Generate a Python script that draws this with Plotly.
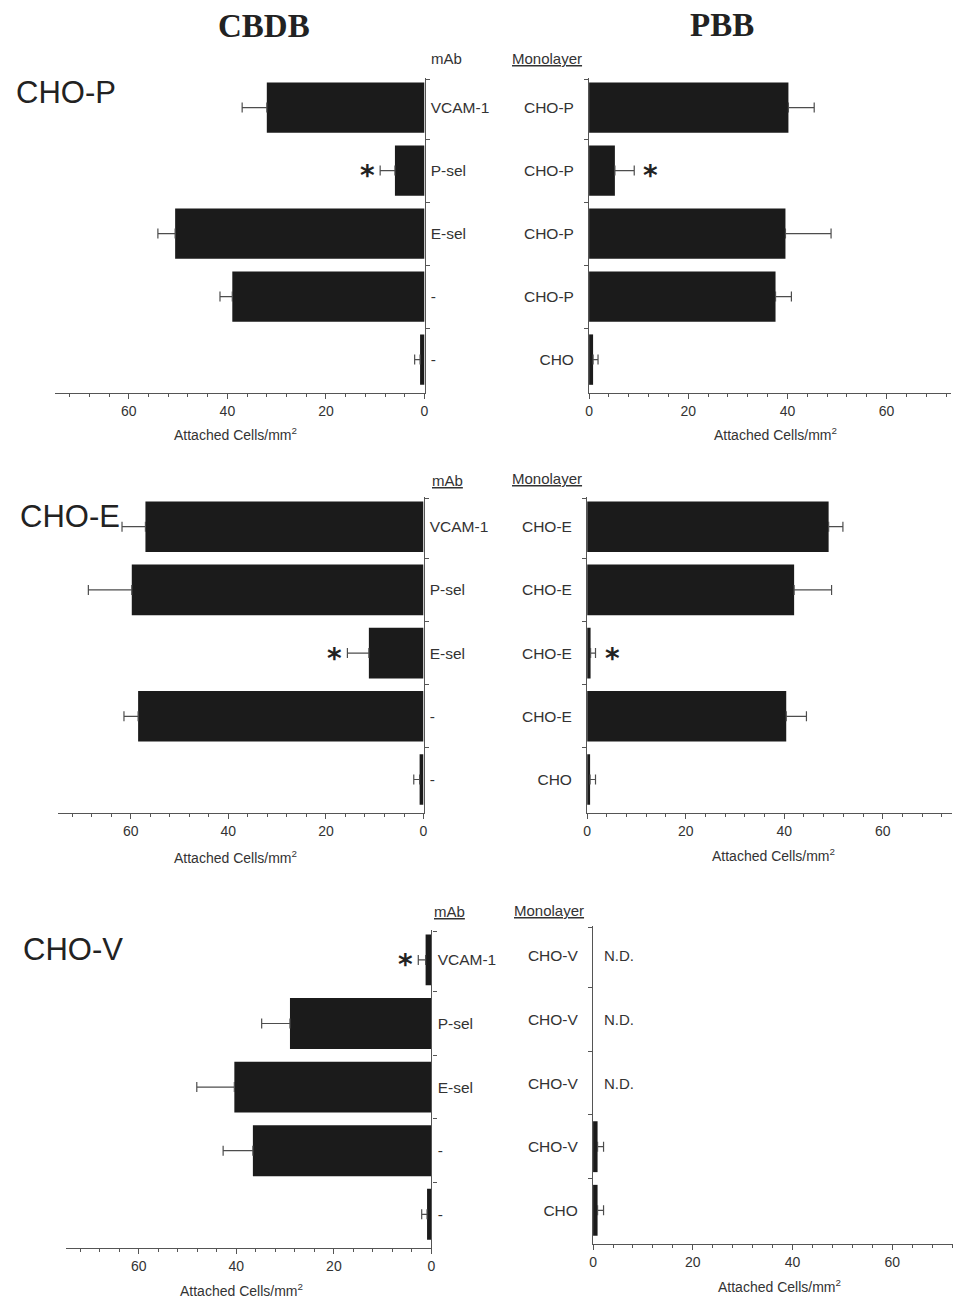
import plotly.graph_objects as go

# ---------------- data ----------------
mab_labels = ["VCAM-1", "P-sel", "E-sel", "-", "-"]
mono_P = ["CHO-P", "CHO-P", "CHO-P", "CHO-P", "CHO"]
mono_E = ["CHO-E", "CHO-E", "CHO-E", "CHO-E", "CHO"]
mono_V = ["CHO-V", "CHO-V", "CHO-V", "CHO-V", "CHO"]

cbdb_P = [32.0, 6.0, 50.6, 39.0, 0.9]
cbdb_P_err = [5.0, 3.0, 3.5, 2.5, 1.1]
cbdb_P_sig = [False, True, False, False, False]

cbdb_E = [57.0, 59.8, 11.2, 58.5, 0.8]
cbdb_E_err = [4.8, 8.9, 4.4, 2.9, 1.2]
cbdb_E_sig = [False, False, True, False, False]

cbdb_V = [1.2, 29.0, 40.4, 36.6, 0.9]
cbdb_V_err = [1.5, 5.8, 7.7, 6.1, 1.1]
cbdb_V_sig = [True, False, False, False, False]

pbb_P = [40.2, 5.2, 39.6, 37.6, 0.8]
pbb_P_err = [5.2, 3.9, 9.2, 3.2, 1.0]
pbb_P_sig = [False, True, False, False, False]

pbb_E = [49.0, 42.0, 0.7, 40.4, 0.6]
pbb_E_err = [2.9, 7.6, 1.0, 4.1, 1.1]
pbb_E_sig = [False, False, True, False, False]

pbb_V = [None, None, None, 0.9, 0.9]
pbb_V_err = [None, None, None, 1.2, 1.2]
pbb_V_nd = [True, True, True, False, False]
pbb_V_sig = [False, False, False, False, False]

row_names = ["CHO-P", "CHO-E", "CHO-V"]
col_titles = ["CBDB", "PBB"]
x_title = "Attached Cells/mm<sup>2</sup>"

# ---------------- layout helpers ----------------
# the page body adds an 8px margin, so the figure is drawn 8px in from the top-left
OFF = 8
W, H = 961 - OFF, 1299 - OFF
def px(x):
    return (x - OFF) / W
def py(y):
    return 1 - (y - OFF) / H

y_num = [4, 3, 2, 1, 0]
BAR = "#1b1b1b"
AX = "#555555"
TXT = "#333333"
FONT = "Liberation Sans, Arial, sans-serif"

# panel geometry (pixel positions in the 961x1299 window)
panels = [
    # (kind, zero_px, ppu, xmax, ytop, ybot)
    ("CBDB", 424, 4.97, 75, 78, 393),
    ("PBB", 590, 5.00, 73, 78, 393),
    ("CBDB", 423, 4.92, 75, 497, 813),
    ("PBB", 588, 4.97, 74, 497, 813),
    ("CBDB", 431, 4.92, 75, 930, 1248),
    ("PBB", 594, 5.03, 73, 926, 1244),
]
panel_data = [
    (cbdb_P, cbdb_P_err, cbdb_P_sig, mab_labels, None),
    (pbb_P, pbb_P_err, pbb_P_sig, mono_P, None),
    (cbdb_E, cbdb_E_err, cbdb_E_sig, mab_labels, None),
    (pbb_E, pbb_E_err, pbb_E_sig, mono_E, None),
    (cbdb_V, cbdb_V_err, cbdb_V_sig, mab_labels, None),
    (pbb_V, pbb_V_err, pbb_V_sig, mono_V, pbb_V_nd),
]

fig = go.Figure()
annotations = []
YR = [-0.53, 4.47]

def paper_text(x, y, text, size, family=FONT, color=TXT):
    return dict(x=px(x), y=py(y), xref="paper", yref="paper", text=text, showarrow=False,
                xanchor="center", yanchor="middle",
                font=dict(family=family, size=size, color=color))

for i, ((kind, zero, ppu, xmax, ytop, ybot), (vals, errs, sig, labels, nd)) in enumerate(zip(panels, panel_data)):
    n = i + 1
    xa = "x" if n == 1 else f"x{n}"
    ya = "y" if n == 1 else f"y{n}"
    xkey = "xaxis" if n == 1 else f"xaxis{n}"
    ykey = "yaxis" if n == 1 else f"yaxis{n}"

    fig.add_trace(go.Bar(
        x=vals, y=y_num, orientation="h", width=0.8,
        marker=dict(color=BAR, line=dict(width=0)),
        error_x=dict(type="data", array=errs, arrayminus=[0] * 5, symmetric=False,
                     color="#4d4d4d", thickness=1.2, width=5),
        xaxis=xa, yaxis=ya, showlegend=False, hoverinfo="skip",
    ))

    if kind == "CBDB":
        dom = [max(0.0, px(zero - xmax * ppu)), px(zero)]
        rng = [xmax, 0]
        yside = "right"
        standoff = 2
    else:
        dom = [px(zero), min(1.0, px(zero + xmax * ppu))]
        rng = [0, xmax]
        yside = "left"
        standoff = 11

    fig.layout[xkey] = dict(
        domain=dom, range=rng, anchor=ya, showgrid=False, zeroline=False,
        showline=True, linecolor=AX, linewidth=1.2,
        tickvals=[0, 20, 40, 60], ticks="outside", ticklen=5, tickcolor=AX,
        tickfont=dict(family=FONT, size=14, color=TXT),
        minor=dict(tick0=0, dtick=4, ticks="outside", ticklen=3, tickcolor=AX, showgrid=False),
        fixedrange=True,
    )
    fig.layout[ykey] = dict(
        domain=[py(ybot), py(ytop)], range=YR, anchor=xa, side=yside,
        showgrid=False, zeroline=False, showline=True, linecolor=AX, linewidth=1.2,
        tickvals=y_num, ticktext=labels, ticks="", ticklabelstandoff=standoff,
        tickfont=dict(family=FONT, size=15.5, color=TXT),
        minor=dict(tickvals=[0.5, 1.5, 2.5, 3.5, 4.45], ticks="outside", ticklen=4,
                   tickcolor=AX, showgrid=False),
        fixedrange=True,
    )

    # significance stars
    for v, e, s, yy in zip(vals, errs, sig, y_num):
        if s:
            annotations.append(dict(
                x=v + e, y=yy, xref=xa, yref=ya, text="<b>*</b>", showarrow=False,
                xanchor="right" if kind == "CBDB" else "left", yanchor="middle",
                xshift=-3 if kind == "CBDB" else 7, yshift=-5,
                font=dict(family="DejaVu Sans", size=28, color="#222222"),
            ))
    # N.D. labels
    if nd is not None:
        for flag, yy in zip(nd, y_num):
            if flag:
                annotations.append(dict(
                    x=0, y=yy, xref=xa, yref=ya, text="N.D.", showarrow=False,
                    xanchor="left", yanchor="middle", xshift=9,
                    font=dict(family=FONT, size=15, color=TXT),
                ))

# column titles
SERIF = "Liberation Serif, Times New Roman, serif"
annotations.append(paper_text(262, 26, f"<b>{col_titles[0]}</b>", 33, SERIF, "#222222"))
annotations.append(paper_text(724, 25, f"<b>{col_titles[1]}</b>", 33, SERIF, "#222222"))

# row labels
row_label_pos = [(62, 92), (66, 516), (70, 949)]
for name, (lx, ly) in zip(row_names, row_label_pos):
    annotations.append(paper_text(lx, ly, name, 31, FONT, "#222222"))

# column header labels
mab_pos = [(446, 58, False), (447, 480, True), (449, 912, True)]
for mx, my, ul in mab_pos:
    t = "<u>mAb</u>" if ul else "mAb"
    annotations.append(paper_text(mx, my, t, 15))
mono_pos = [(548, 58), (548, 478), (550, 910)]
for mx, my in mono_pos:
    annotations.append(paper_text(mx, my, "<u>Monolayer</u>", 15))

# x-axis titles
xt_pos = [(233, 434), (778, 434), (233, 857), (776, 855), (239, 1290), (782, 1286)]
for tx, ty in xt_pos:
    annotations.append(paper_text(tx, ty, x_title, 14))

fig.update_layout(
    width=W, height=H, margin=dict(l=0, r=0, t=0, b=0),
    paper_bgcolor="white", plot_bgcolor="white",
    showlegend=False, bargap=0.2, annotations=annotations,
)

fig.write_html("out.html")
